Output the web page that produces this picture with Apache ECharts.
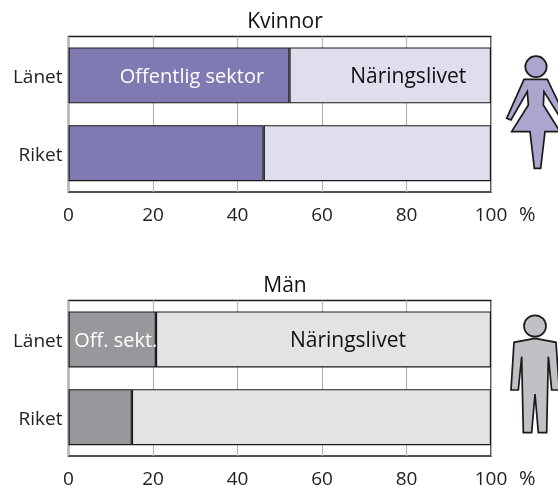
<!DOCTYPE html>
<html><head><meta charset="utf-8">
<style>html,body{margin:0;padding:0;background:#fff}#c{width:558px;height:486px}</style>
<script src="https://cdn.jsdelivr.net/npm/echarts@6/dist/echarts.min.js"></script>
</head><body><div id="c"></div>
<script>
const categories = ['Länet', 'Riket'];
const xTicks = [0, 20, 40, 60, 80, 100];
const panelTitles = ['Kvinnor', 'Män'];
const kvinnorOffentlig = [52.3, 46.2];
const kvinnorNaringsliv = [47.7, 53.8];
const manOffentlig = [20.7, 15];
const manNaringsliv = [79.3, 85];
const FONT = '"Open Sans", "Noto Sans", sans-serif';
const INK = '#1a1a1a';

function lab(text, color, offset, fontSize) {
  return { show: true, position: 'inside', formatter: text, color, offset,
           fontFamily: FONT, fontSize };
}
function bar(name, idx, values, color, label) {
  return { type: 'bar', name, xAxisIndex: idx, yAxisIndex: idx, stack: 's' + idx,
    barWidth: 56, animation: false, silent: true,
    itemStyle: { color, borderColor: INK, borderWidth: 1.2 },
    data: values.map((v, i) => i === 0 ? { value: v, label } : v) };
}
const gridBase = { left: 68.5, width: 422.5, height: 155.5, show: true, borderColor: INK, borderWidth: 1.5, backgroundColor: 'transparent', outerBoundsMode: 'none' };
const grids = [
  { ...gridBase, top: 36.5 },
  { ...gridBase, top: 300.5 }
];
const xAxes = [0, 1].map(i => ({
  type: 'value', gridIndex: i, min: 0, max: 100, interval: 20,
  axisLine: { show: false }, axisTick: { show: false },
  splitLine: { show: true, lineStyle: { color: '#b5b5b5', width: 1.2 } },
  axisLabel: { color: '#222', fontFamily: FONT, fontSize: 19, margin: 14,
    formatter: v => xTicks.includes(v) ? String(v) : '', hideOverlap: false },
  name: '%', nameLocation: 'end', nameGap: 28,
  nameTextStyle: { color: '#222', fontFamily: FONT, fontSize: 20, verticalAlign: 'top', padding: [13, 0, 0, 0] }
}));
const yAxes = [0, 1].map(i => ({
  type: 'category', gridIndex: i, inverse: true, data: categories,
  axisLine: { show: false }, axisTick: { show: false }, splitLine: { show: false },
  axisLabel: { color: '#222', fontFamily: FONT, fontSize: 19, margin: 6,
    formatter: v => '{a|' + v + '}',
    rich: { a: { color: '#222', fontFamily: FONT, fontSize: 19, padding: [4, 0, 0, 0] } } }
}));
const womanColor = '#aaa6ce', manColor = '#c0c1c4';
const sw = { stroke: INK, lineWidth: 1.7 };
const z = (pts, oy) => pts.map(p => [500 + p[0] / 3, oy + p[1] / 3]);
const woman = [[72,88],[20,205],[33,210],[82,125],[85,165],[35,245],[90,245],[103,355],[122,355],[135,245],[180,245],[130,165],[132,125],[185,210],[198,205],[142,88]];
const man = [[105,85],[42,97],[33,240],[55,240],[65,140],[70,368],[95,368],[105,252],[115,368],[140,368],[145,140],[155,240],[178,240],[168,97]];
const chart = echarts.init(document.getElementById('c'), null, { renderer: 'canvas' });
chart.setOption({
  animation: false,
  backgroundColor: '#fff',
  title: [
    { text: panelTitles[0], left: 280, top: 7, textAlign: 'center', textStyle: { color: '#111', fontFamily: FONT, fontSize: 21, fontWeight: 'normal' } },
    { text: panelTitles[1], left: 280, top: 271, textAlign: 'center', textStyle: { color: '#111', fontFamily: FONT, fontSize: 21, fontWeight: 'normal' } }
  ],
  grid: grids, xAxis: xAxes, yAxis: yAxes,
  series: [
    bar('Offentlig sektor', 0, kvinnorOffentlig, '#7f7ab2', lab('Offentlig sektor', '#fff', [13, 2], 20)),
    bar('Näringslivet', 0, kvinnorNaringsliv, '#dfdeed', lab('Näringslivet', '#111', [18, 2], 21)),
    bar('Off. sekt.', 1, manOffentlig, '#98979b', lab('Off. sekt.', '#fff', [3.5, 2], 20)),
    bar('Näringslivet', 1, manNaringsliv, '#e2e3e5', lab('Näringslivet', '#111', [24.5, 2], 21))
  ],
  graphic: [
    { type: 'ellipse', shape: { cx: 536, cy: 66.7, rx: 10.7, ry: 10.5 }, style: { fill: womanColor, ...sw } },
    { type: 'polygon', shape: { points: z(woman, 50) }, style: { fill: womanColor, ...sw } },
    { type: 'ellipse', shape: { cx: 535, cy: 326, rx: 11, ry: 10.7 }, style: { fill: manColor, ...sw } },
    { type: 'polygon', shape: { points: z(man, 310) }, style: { fill: manColor, ...sw } }
  ]
});
</script></body></html>
